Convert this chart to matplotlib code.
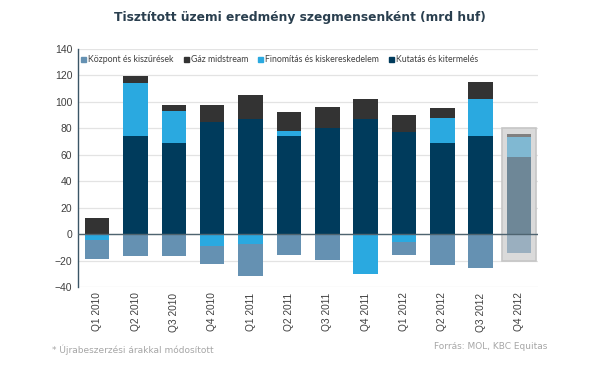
import numpy as np
import matplotlib
matplotlib.use('Agg')
import matplotlib.pyplot as plt
from matplotlib.patches import Rectangle

plt.rcParams['font.family'] = ['DejaVu Sans']

# ── 데이터 (mrd huf) ──
quarters = ['Q1 2010', 'Q2 2010', 'Q3 2010', 'Q4 2010', 'Q1 2011', 'Q2 2011',
            'Q3 2011', 'Q4 2011', 'Q1 2012', 'Q2 2012', 'Q3 2012', 'Q4 2012']
kutatas = [0, 74, 69, 85, 87, 74, 80.5, 87, 77.5, 69, 74, 58.5]
finomitas = [-4.5, 40, 24, 0, 0, 4, 0, 0, 0, 18.5, 28.5, 15]
finomitas_neg = [0, 0, 0, -9, -7.5, 0, -1, -30, -6, 0, 0, 0]
gaz = [12, 5.5, 5, 13, 18, 14.5, 16, 15.5, 12.5, 8, 12.5, 2.5]
kozpont = [-14.5, -16.5, -16.5, -13.5, -24.5, -15.5, -18.5, 0, -10, -23, -26, -14.5]

legend_labels = ['Központ és kiszűrések', 'Gáz midstream',
                 'Finomítás és kiskereskedelem', 'Kutatás és kitermelés']

C_UP, C_REF, C_GAS, C_CEN = '#003B5C', '#2AA9E0', '#333333', '#6591B2'
F_UP, F_REF, F_GAS, F_CEN = '#6E8797', '#80B8D2', '#808080', '#9AAFBF'

fig = plt.figure(figsize=(6.0, 3.73), dpi=100)
ax = fig.add_axes([0.13, 0.2306, 0.767, 0.638])

x = np.arange(len(quarters))
w = 0.64
n = len(quarters)
last = n - 1

def cols(c, f):
    return [c] * last + [f]

# 양수 스택
pos = np.zeros(n)
ax.bar(x, kutatas, w, bottom=pos, color=cols(C_UP, F_UP), zorder=3)
pos += np.array(kutatas)
ref_pos = np.array(finomitas)
ax.bar(x, np.where(ref_pos > 0, ref_pos, 0), w, bottom=pos, color=cols(C_REF, F_REF), zorder=3)
pos += np.where(ref_pos > 0, ref_pos, 0)
ax.bar(x, gaz, w, bottom=pos, color=cols(C_GAS, F_GAS), zorder=3)

# 음수 스택
neg = np.where(ref_pos < 0, ref_pos, 0) + np.array(finomitas_neg)
ax.bar(x, neg, w, bottom=0, color=cols(C_REF, F_REF), zorder=3)
ax.bar(x, kozpont, w, bottom=neg, color=cols(C_CEN, F_CEN), zorder=3)

# Q4 2012 (becslés) háttér doboz
ax.add_patch(Rectangle((last - 0.45, -20), 0.9, 100.5, facecolor='#DADADA',
                       edgecolor='#C6C6C6', linewidth=1.2, zorder=2))

ax.set_xlim(-0.5, n - 0.5)
ax.set_ylim(-40, 140)
ax.set_yticks(range(-40, 141, 20))
ax.yaxis.grid(True, color='#E3E3E3', linewidth=0.9, zorder=0)
ax.axhline(0, color='#4F6470', linewidth=1.0, zorder=4)

for s in ['top', 'right', 'bottom']:
    ax.spines[s].set_visible(False)
ax.spines['left'].set_color('#3A5566')
ax.spines['left'].set_linewidth(1.0)
ax.tick_params(axis='both', length=0, labelsize=7.5, colors='#404040', pad=4)
ax.set_xticks(x)
ax.set_xticklabels(quarters, rotation=90, fontsize=7.3, color='#404040')
for lbl in ax.get_xticklabels() + ax.get_yticklabels():
    lbl.set_family(['Liberation Sans', 'DejaVu Sans'])

# 범례
handles = [Rectangle((0, 0), 1, 1, color=c) for c in [C_CEN, C_GAS, C_REF, C_UP]]
ax.legend(handles, legend_labels, loc='upper left', bbox_to_anchor=(-0.005, 0.995),
          ncol=4, frameon=False, handlelength=0.6, handleheight=0.6,
          handletextpad=0.25, columnspacing=1.1, labelcolor='#404040',
          borderaxespad=0.2, prop={'family': ['Lato', 'DejaVu Sans'], 'size': 6.3})

fig.text(0.5, 0.952, 'Tisztított üzemi eredmény szegmensenként (mrd huf)',
         ha='center', va='center', fontsize=8.8, fontweight='bold', color='#2A3F4F')
fig.text(0.087, 0.063, '* Újrabeszerzési árakkal módosított', ha='left', va='center',
         fontsize=6.5, color='#A6A6A6')
fig.text(0.913, 0.072, 'Forrás: MOL, KBC Equitas', ha='right', va='center',
         fontsize=6.5, color='#A6A6A6')

plt.savefig('out.png', dpi=100)
plt.close()
